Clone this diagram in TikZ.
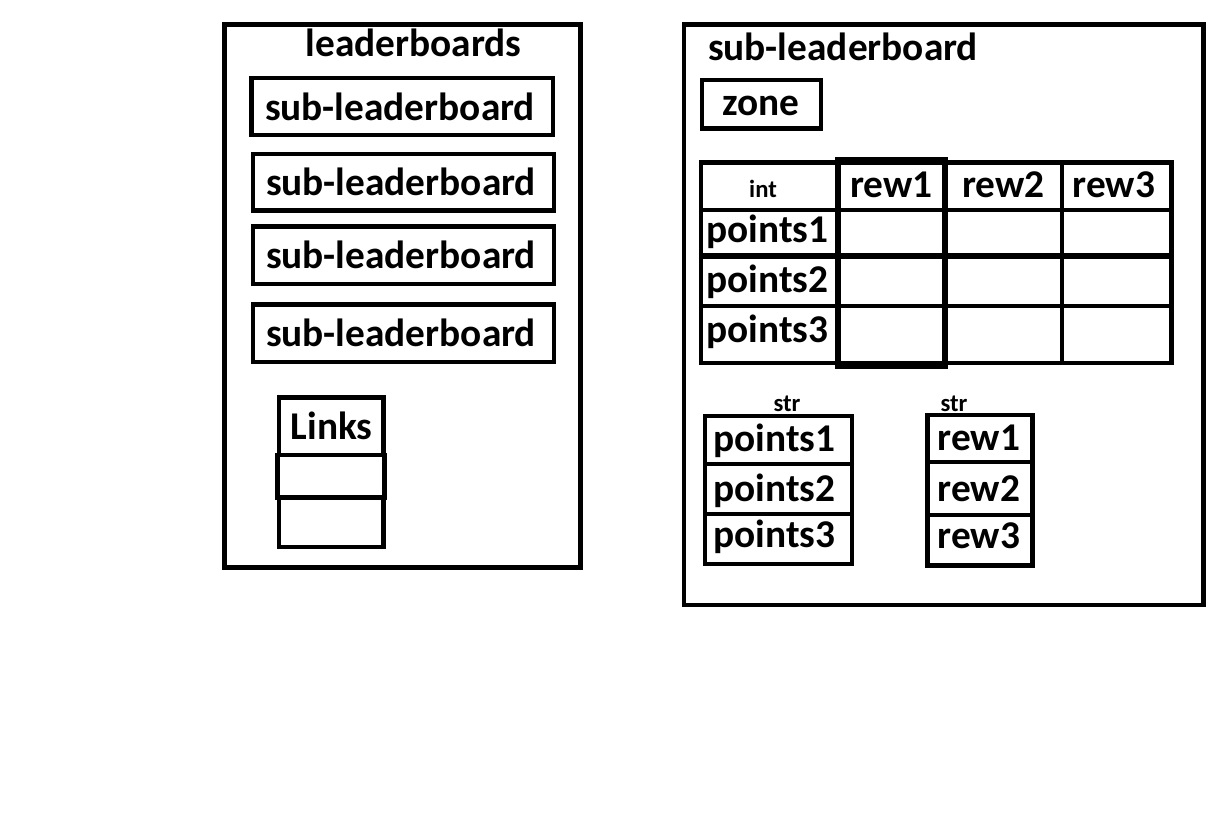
\documentclass[tikz,border=0pt]{standalone}
\usepackage{fontspec}
\setmainfont{Carlito}
\usetikzlibrary{calc}

\tikzset{
	box/.style={line width=3.4pt},
	heavy/.style={line width=4pt},
	lbl/.style={font=\fontsize{29.5}{30}\selectfont\bfseries, inner sep=0pt, anchor=base},
	tag/.style={font=\fontsize{18.5}{20}\selectfont\bfseries, inner sep=0pt, anchor=base}
}

\begin{document}
\begin{tikzpicture}[x=0.75pt, y=-0.75pt]
\useasboundingbox[fill=white] (0,0) rectangle (1226,826);

% left panel: leaderboards
\draw[box] (224.7,24.5) rectangle (580.5,567.5);
\node[lbl] (lbtitle) at (413.5,56) {leaderboards};
\draw[box] (251.7,78.2) rectangle (553,135);
\draw[box] (253,153.8) rectangle (554,210.7);
\draw[box] (253,226.5) rectangle (554,283.8);
\draw[box] (253,304.7) rectangle (554,362);
\node[lbl] (sub1) at (400,120) {sub-leaderboard};
\node[lbl] (sub2) at (401,195.5) {sub-leaderboard};
\node[lbl] (sub3) at (401,268.5) {sub-leaderboard};
\node[lbl] (sub4) at (401,346.5) {sub-leaderboard};

% links list
\draw[box] (279,397.5) rectangle (383.3,454.8);
\draw[box] (277.5,454.8) rectangle (384.5,497.5);
\draw[box] (279,497.5) rectangle (383.3,546.8);
\node[lbl] (links) at (331.7,439) {Links};

% right panel: one sub-leaderboard
\draw[box] (684,24.5) rectangle (1203.5,605);
\node[lbl] (sltitle) at (843,60) {sub-leaderboard};
\draw[box] (702,80) rectangle (821,128.5);
\node[lbl] (zone) at (761,115) {zone};

% int table
\draw[box] (701,162.5) rectangle (1171.5,363);
\draw[box] (701,210) -- (1171.5,210);
\draw[heavy] (701,256) -- (1171.5,256);
\draw[box] (701,306) -- (1171.5,306);
\draw[box] (1062,162.5) -- (1062,363);
\draw[heavy] (838,160) rectangle (945,366);
\node[tag] (int) at (763,197) {int};
\node[lbl] (rew1) at (891.5,197) {rew1};
\node[lbl] (rew2) at (1003.5,197) {rew2};
\node[lbl] (rew3) at (1114,197) {rew3};
\node[lbl, anchor=base west] (pts1) at (706,242) {points1};
\node[lbl, anchor=base west] (pts2) at (706,292) {points2};
\node[lbl, anchor=base west] (pts3) at (706,342) {points3};

% str lists
\draw[box] (705,416) rectangle (852,564);
\draw[box] (705,464) -- (852,464);
\draw[box] (705,514) -- (852,514);
\node[tag] (strp) at (787,411) {str};
\node[lbl, anchor=base west] (spts1) at (713,451) {points1};
\node[lbl, anchor=base west] (spts2) at (713,501) {points2};
\node[lbl, anchor=base west] (spts3) at (713,547) {points3};

\draw[box] (927.5,415) rectangle (1032.5,565.5);
\draw[box] (927.5,462) -- (1032.5,462);
\draw[box] (927.5,515) -- (1032.5,515);
\node[tag] (strr) at (954,411.5) {str};
\node[lbl] (srew1) at (979,450) {rew1};
\node[lbl] (srew2) at (979,501) {rew2};
\node[lbl] (srew3) at (979,548) {rew3};
\end{tikzpicture}
\end{document}
